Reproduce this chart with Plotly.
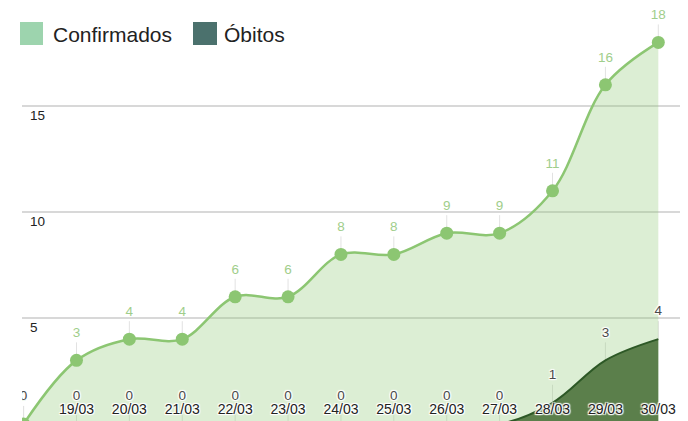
import plotly.graph_objects as go

# ---- data ----
dates = ["18/03", "19/03", "20/03", "21/03", "22/03", "23/03", "24/03",
         "25/03", "26/03", "27/03", "28/03", "29/03", "30/03"]
confirmados = [0, 3, 4, 4, 6, 6, 8, 8, 9, 9, 11, 16, 18]
obitos = [0, 0, 0, 0, 0, 0, 0, 0, 0, 0, 1, 3, 4]
x_tick_labels = dates[1:]
y_tick_vals = [5, 10, 15, 20]
y_tick_text = ["5", "10", "15", ""]
legend_names = ["Confirmados", "Óbitos"]

# ---- styles ----
W, H = 688, 421
ML, MR, MT, MB = 22, 8, 0, 0
PW, PH = W - ML - MR, H - MT - MB
FONT = "Arial, Liberation Sans, sans-serif"
C_LINE = "#8cc672"
C_FILL = "rgba(140,198,114,0.30)"
C_LABEL = "#9fce8b"
O_LINE = "#2d5826"
O_FILL = "#5b7f4b"
LEG_COLORS = ["#9dd4ae", "#4b716d"]
HALO_W = ("1px 1px 1px #fff, -1px -1px 1px #fff, 1px -1px 1px #fff, "
          "-1px 1px 1px #fff, 0 0 2px #fff")
LEADER = dict(type="constant", value=0.85, valueminus=0, symmetric=False,
              width=0, thickness=1, color="#e2e2e2")


def px_x(p):
    return (p - ML) / PW


def px_y(p):
    return 1 - (p - MT) / PH


fig = go.Figure()

# leader lines (drawn first, beneath everything)
for series in (confirmados, obitos):
    fig.add_trace(go.Scatter(
        x=dates, y=series, mode="markers",
        marker=dict(size=1, color="rgba(0,0,0,0)"),
        error_y=LEADER, showlegend=False, hoverinfo="skip",
    ))

fig.add_trace(go.Scatter(
    x=dates, y=confirmados, mode="lines+markers", name=legend_names[0],
    line=dict(color=C_LINE, width=2.5, shape="spline", smoothing=1),
    marker=dict(size=13, color=C_LINE),
    fill="tozeroy", fillcolor=C_FILL, showlegend=False, hoverinfo="skip",
))
fig.add_trace(go.Scatter(
    x=dates, y=obitos, mode="lines", name=legend_names[1],
    line=dict(color=O_LINE, width=2, shape="spline", smoothing=1),
    fill="tozeroy", fillcolor=O_FILL, showlegend=False, hoverinfo="skip",
))

# value labels
fig.add_trace(go.Scatter(
    x=dates, y=confirmados, mode="markers+text",
    text=[str(v) for v in confirmados], textposition="top center",
    textfont=dict(family=FONT, size=13.5, color=C_LABEL),
    marker=dict(size=30, color="rgba(0,0,0,0)"),
    showlegend=False, hoverinfo="skip",
))
fig.add_trace(go.Scatter(
    x=dates, y=obitos, mode="markers+text",
    text=[str(v) for v in obitos], textposition="top center",
    textfont=dict(family=FONT, size=13.5, color="#4a4a4a", shadow=HALO_W),
    marker=dict(size=31, color="rgba(0,0,0,0)"),
    showlegend=False, hoverinfo="skip",
))

# custom legend
shapes = []
annotations = []
leg_sq = [(20, 43), (193, 217)]
leg_tx = [51, 222]
for name, col, (x0, x1), tx in zip(legend_names, LEG_COLORS, leg_sq, leg_tx):
    shapes.append(dict(type="rect", xref="paper", yref="paper",
                       x0=px_x(x0), x1=px_x(x1), y0=px_y(45), y1=px_y(22),
                       fillcolor=col, line=dict(width=0)))
    annotations.append(dict(text=name, xref="paper", yref="paper",
                            x=px_x(tx), y=px_y(34), xanchor="left",
                            yanchor="middle", showarrow=False,
                            font=dict(family=FONT, size=21, color="#222222")))

fig.update_layout(
    width=W, height=H,
    margin=dict(l=ML, r=MR, t=MT, b=MB),
    paper_bgcolor="white", plot_bgcolor="white",
    showlegend=False, hovermode=False,
    shapes=shapes, annotations=annotations,
    xaxis=dict(type="category", range=[-0.03, 12.41],
               tickvals=x_tick_labels, ticktext=x_tick_labels,
               ticklabelposition="inside", ticks="", ticklabelstandoff=1,
               showgrid=False, zeroline=False, showline=False,
               tickfont=dict(family=FONT, size=14, color="#222222",
                             shadow=HALO_W)),
    yaxis=dict(range=[0.14, 20.0], tickvals=y_tick_vals, ticktext=y_tick_text,
               ticklabelposition="inside bottom", ticks="",
               ticklabelstandoff=5,
               showgrid=True, gridcolor="#d8d8d8", gridwidth=1.5,
               zeroline=False, showline=False,
               tickfont=dict(family=FONT, size=13.5, color="#222222")),
)

fig.write_html("out.html",
               config={"displayModeBar": False, "staticPlot": True},
               post_script="document.body.style.margin='0px';")
